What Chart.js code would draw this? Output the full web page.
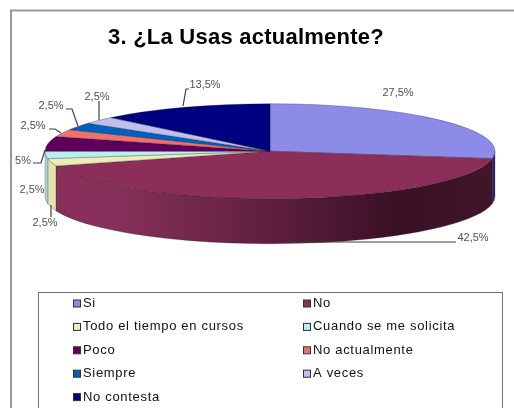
<!DOCTYPE html>
<html><head><meta charset="utf-8">
<style>html,body{margin:0;padding:0;background:#fff}canvas{display:block;filter:blur(0.55px)}</style>
<script src="https://cdn.jsdelivr.net/npm/chart.js@4/dist/chart.umd.min.js"></script>
</head><body><canvas id="c" width="514" height="408"></canvas>
<script>
const categories = ['Si','No','Todo el tiempo en cursos','Cuando se me solicita','Poco','No actualmente','Siempre','A veces','No contesta'];
const values = [27.5,42.5,2.5,2.5,5,2.5,2.5,2.5,13.5];
const valueLabels = ['27,5%','42,5%','2,5%','2,5%','5%','2,5%','2,5%','2,5%','13,5%'];
const topColors = ['#8C8CE8','#8B2E5A','#EDEDB8','#B8F0F0','#5C005C','#F07070','#0060C0','#C0C0F0','#000080'];
const sideColors = ['#2A2A62','#8B2E5A','#E4E2AE','#A8D8DC','#3A003A','#A05050','#004080','#8080A0','#000050'];
// where each value label sits, and its leader polyline
const labelSpots = [[398,93],[473,238],[45,223],[32,190],[23,161],[33,126],[51,106],[97,97],[205,85]];
const leaders = [null,[[287,242],[456,242]],[[51,205],[51,217]],null,[[33,163],[41,163],[45,150]],[[49,129],[55,129],[61,133]],[[66,109],[72,109],[78,126]],[[99,101],[99,120]],[[183,106],[186,89],[189,89]]];
const squash = 47.5/225, depth = 45;
// the printed percentages add up to 101; the reference still closes the circle at 12 o'clock
const sweep = values.reduce((s,v)=>s+v,0)*3.6;

const pie3d = {
  id:'pie3d',
  beforeDraw(chart){ chart.ctx.letterSpacing='0.24px'; },
  beforeDatasetDraw(chart){
    const ctx = chart.ctx, arcs = chart.getDatasetMeta(0).data;
    ctx.letterSpacing='0px';
    const a0 = arcs[0], cx = a0.x, cy = a0.y, r = a0.outerRadius;
    const last = arcs[arcs.length-1];
    last.endAngle = a0.startAngle + Math.PI*2;
    last.circumference = last.endAngle - last.startAngle;
    ctx.save();
    ctx.translate(cx,cy); ctx.scale(1,squash); ctx.translate(-cx,-cy);
    const d = depth/squash;
    arcs.forEach((a,i)=>{
      const s = Math.max(a.startAngle,0), e = Math.min(a.endAngle,Math.PI);
      if (e<=s) return;
      ctx.beginPath();
      ctx.arc(cx,cy,r,s,e);
      ctx.arc(cx,cy+d,r,e,s,true);
      ctx.closePath();
      if (i===1){
        const g = ctx.createLinearGradient(50,0,495,0);
        g.addColorStop(0,'#8B2E5A'); g.addColorStop(.16,'#85305A');
        g.addColorStop(.5,'#5E1E3E'); g.addColorStop(.78,'#3A1024'); g.addColorStop(1,'#42162A');
        ctx.fillStyle = g;
      } else ctx.fillStyle = sideColors[i];
      ctx.fill();
      ctx.lineWidth = 0.8; ctx.strokeStyle = 'rgba(30,20,30,.55)';
      ctx.stroke();
    });
  },
  afterDatasetDraw(chart){ chart.ctx.restore(); },
  afterDraw(chart){
    const ctx = chart.ctx;
    ctx.save();
    ctx.letterSpacing='0px';
    // outer frame
    ctx.strokeStyle = '#999'; ctx.lineWidth = 2;
    ctx.beginPath(); ctx.moveTo(11,408); ctx.lineTo(11,10.5); ctx.lineTo(514,10.5); ctx.stroke();
    // value labels and leaders
    ctx.font = '11px "Liberation Sans"'; ctx.fillStyle = '#505050';
    ctx.textAlign='center'; ctx.textBaseline='middle';
    valueLabels.forEach((t,i)=>ctx.fillText(t,labelSpots[i][0],labelSpots[i][1]));
    ctx.strokeStyle='#404040'; ctx.lineWidth=1.2;
    leaders.forEach(l=>{ if(!l) return; ctx.beginPath(); l.forEach((p,j)=>j?ctx.lineTo(p[0],p[1]):ctx.moveTo(p[0],p[1])); ctx.stroke(); });
    // legend box
    ctx.strokeStyle='#707070'; ctx.lineWidth=1;
    ctx.strokeRect(38.5,292.5,464,130);
    ctx.font='13px "Liberation Sans"'; ctx.letterSpacing='0.68px';
    ctx.textAlign='left';
    categories.forEach((t,i)=>{
      const col=i%2,row=Math.floor(i/2),x=col?303:73,y=303.5+row*23.4;
      ctx.fillStyle=topColors[i]; ctx.fillRect(x+.5,y-3.5,7,7);
      ctx.strokeStyle='#303030'; ctx.strokeRect(x+.5,y-3.5,7,7);
      ctx.fillStyle='#111'; ctx.fillText(t,x+10,y);
    });
    ctx.restore();
  }
};

new Chart(document.getElementById('c'),{
  type:'pie',
  data:{labels:categories,datasets:[{data:values,backgroundColor:topColors,borderColor:'rgba(30,20,30,.6)',borderWidth:0.8,clip:false}]},
  plugins:[pie3d],
  options:{
    responsive:false,animation:false,radius:225,rotation:0,circumference:sweep,
    layout:{padding:{left:108,right:82,top:0,bottom:157}},
    plugins:{
      legend:{display:false},tooltip:{enabled:false},
      title:{display:true,text:'3. ¿La Usas actualmente?',align:'start',fullSize:false,color:'#000',
        font:{family:'"Liberation Sans"',size:22,weight:'bold',lineHeight:1.2},padding:{top:25,bottom:0}}
    }
  }
});
</script></body></html>
